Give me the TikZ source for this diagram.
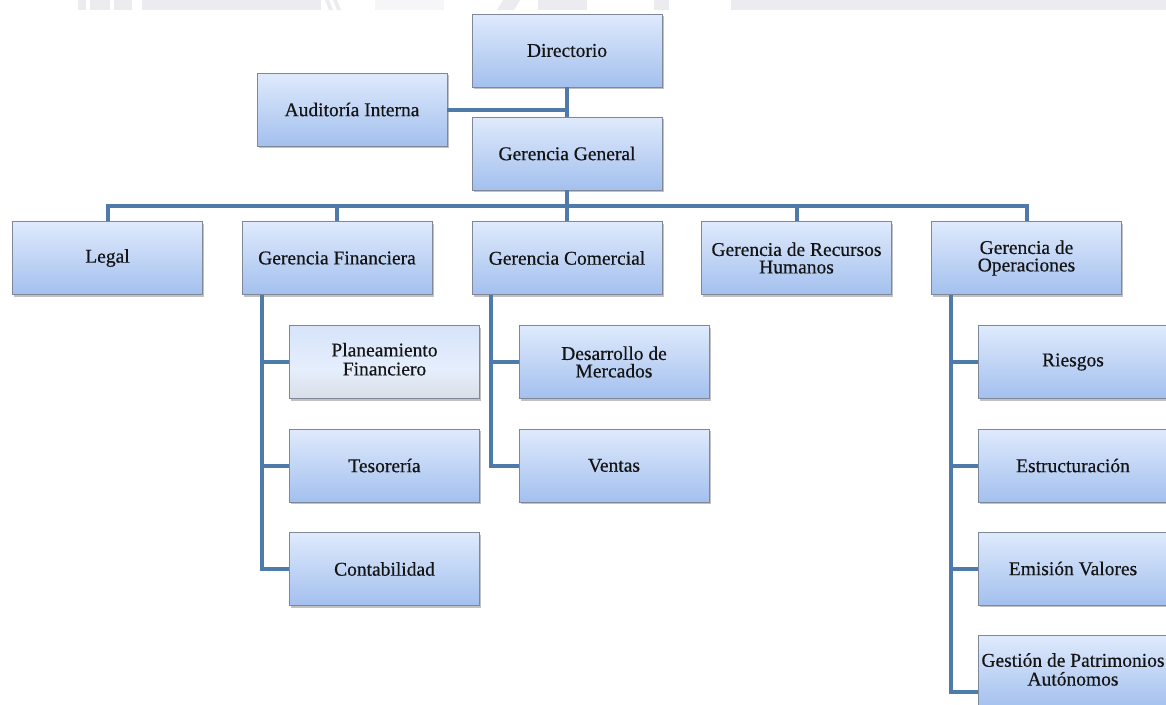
\documentclass[tikz,border=0pt]{standalone}
\usepackage{fontspec}
\setmainfont{Liberation Serif}
\newfontfamily\boxfont{Liberation Serif}[FakeBold=0.5]
\usetikzlibrary{shadows}

\definecolor{boxtop}{HTML}{DFEAFC}
\definecolor{boxbot}{HTML}{A3C0EE}
\definecolor{boxline}{HTML}{7F8898}
\definecolor{linkblue}{HTML}{4F7BAA}
\definecolor{band}{HTML}{ECECF0}
\definecolor{inktext}{HTML}{141414}

% softer, greyer fill used by one of the boxes
\pgfdeclareverticalshading{planshade}{100bp}{%
  color(0bp)=(boxbot!55!gray!35!white);
  color(25bp)=(boxbot!55!gray!35!white);
  color(45bp)=(boxtop!80!white);
  color(75bp)=(boxtop!85!boxbot);
  color(100bp)=(boxtop!85!boxbot)}

\tikzset{
  unit/.style={draw=boxline, line width=0.9pt,
    top color=boxtop, bottom color=boxbot,
    minimum width=190pt, minimum height=73pt, inner sep=0pt,
    align=center, text=inktext,
    font=\boxfont\fontsize{19.5}{17.5}\selectfont,
    drop shadow={shadow xshift=1.5pt, shadow yshift=-2pt,
                 opacity=.4, fill=black!60}},
  planunit/.style={unit, shading=planshade},
  link/.style={draw=linkblue, line width=4pt, line join=miter}
}

\newcommand{\uptext}[2][18]{\raisebox{7pt}{\fontsize{19.5}{#1}\selectfont\begin{tabular}{@{}c@{}}#2\end{tabular}}}

\begin{document}
\begin{tikzpicture}[x=1pt, y=-1pt]
  \useasboundingbox (0,0) rectangle (1166,704);
  \fill[white] (0,0) rectangle (1166,704);
  \clip (0,0) rectangle (1166,704);

  % faint banner strip along the top edge
  \fill[band] (78,0) rectangle (86,10);
  \fill[band] (90,0) rectangle (110,10);
  \fill[band] (114,0) rectangle (132,10);
  \fill[band] (142,0) rectangle (321,10);
  \fill[band] (325,0) -- (329,0) -- (333,10) -- (329,10) -- cycle;
  \fill[band] (333,0) -- (337,0) -- (341,10) -- (337,10) -- cycle;
  \fill[band!50!white] (375,0) rectangle (444,10);
  \fill[band] (503,0) -- (520,0) -- (514,10) -- (497,10) -- cycle;
  \fill[band] (538,0) rectangle (587,10);
  \fill[band] (654,0) rectangle (669,10);
  \fill[band] (731,0) rectangle (1166,10);

  % top of the organisation
  \node[unit] (dir) at (567,50.5)  {Directorio};
  \node[unit] (aud) at (352,109.5) {Auditoría Interna};
  \node[unit] (gg)  at (567,153.5) {Gerencia General};

  % first level
  \node[unit] (legal) at (107.5,258) {Legal};
  \node[unit] (gf)    at (337,258)   {Gerencia Financiera};
  \node[unit] (gc)    at (567,258)   {Gerencia Comercial};
  \node[unit] (grh)   at (796.5,258) {Gerencia de Recursos\\Humanos};
  \node[unit] (gop)   at (1026.5,258){Gerencia de\\Operaciones};

  % finance
  \node[planunit] (plan) at (384.5,362)   {\uptext[19]{Planeamiento\\Financiero}};
  \node[unit]     (tes)  at (384.5,465.5) {Tesorería};
  \node[unit]     (cont) at (384.5,569)   {Contabilidad};

  % commercial
  \node[unit] (des) at (614,362)   {Desarrollo de\\Mercados};
  \node[unit] (ven) at (614,465.5) {Ventas};

  % operations
  \node[unit] (rie) at (1073,362)   {Riesgos};
  \node[unit] (est) at (1073,465.5) {Estructuración};
  \node[unit] (emi) at (1073,568.5) {Emisión Valores};
  \node[unit] (ges) at (1073,672)   {\uptext[17.5]{Gestión de Patrimonios\\Autónomos}};

  % connectors
  \draw[link] (dir.south) -- (gg.north);
  \coordinate (audj) at (dir.south |- aud.east);
  \draw[link] (aud.east) -- (audj);

  \coordinate (bus) at (567,206);
  \draw[link] (gg.south) -- (bus);
  \draw[link] (legal.north) |- (bus) -| (gop.north);
  \draw[link] (gf.north)  -- (gf.north |- bus);
  \draw[link] (gc.north)  -- (gc.north |- bus);
  \draw[link] (grh.north) -- (grh.north |- bus);

  \coordinate (gfx)  at ([xshift=20pt]gf.south west);
  \coordinate (gcx)  at ([xshift=19pt]gc.south west);
  \coordinate (gopx) at ([xshift=20pt]gop.south west);

  \draw[link] (gfx) |- (cont.west);
  \draw[link] (plan.west) -- (plan.west -| gfx);
  \draw[link] (tes.west)  -- (tes.west -| gfx);

  \draw[link] (gcx) |- (ven.west);
  \draw[link] (des.west) -- (des.west -| gcx);

  \draw[link] (gopx) |- ([yshift=-20pt]ges.west);
  \draw[link] (rie.west) -- (rie.west -| gopx);
  \draw[link] (est.west) -- (est.west -| gopx);
  \draw[link] (emi.west) -- (emi.west -| gopx);
\end{tikzpicture}
\end{document}
